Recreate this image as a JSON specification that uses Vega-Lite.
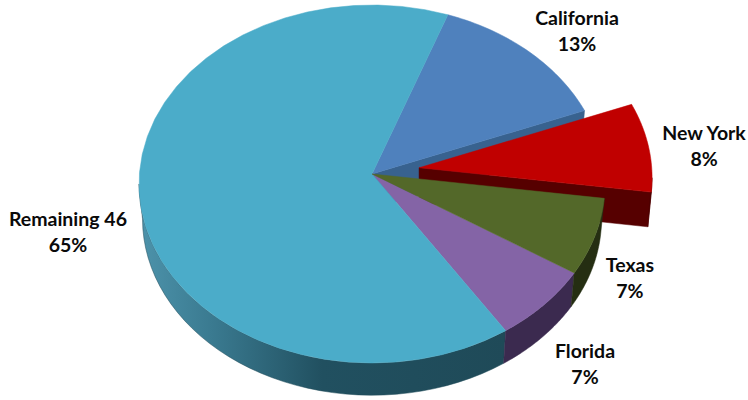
{
  "$schema": "https://vega.github.io/schema/vega-lite/v6.json",
  "description": "Share of a total by state, drawn as a tilted pie with an exploded New York slice. Slice angles come from the share field; the pie is a unit circle stretched by the x and y scales.",
  "autosize": {"type": "fit", "contains": "padding"},
  "width": 748,
  "height": 400,
  "padding": 0,
  "background": "white",
  "view": {"stroke": null},
  "data": {"values": [
    {"state": "California", "share": 13},
    {"state": "New York", "share": 8},
    {"state": "Texas", "share": 7},
    {"state": "Florida", "share": 7},
    {"state": "Remaining 46", "share": 65}
  ]},
  "transform": [
    {"window": [{"op": "sum", "field": "share", "as": "cum"}]},
    {"calculate": "19 + 3.6 * datum.cum", "as": "end"},
    {"calculate": "datum.end - 3.6 * datum.share", "as": "start"},
    {"calculate": "(datum.start + datum.end) / 2 * PI / 180", "as": "mid"},
    {"calculate": "datum.state === 'New York' ? 0.205 : 0", "as": "explode"},
    {"calculate": "['top', 'wall', 'radial']", "as": "kind"},
    {"flatten": ["kind"]},
    {"calculate": "sequence(0, 82)", "as": "step"},
    {"flatten": ["step"]},
    {"calculate": "(datum.step % 81) / 40", "as": "s"},
    {"calculate": "max(datum.start, 90)", "as": "a0"},
    {"calculate": "min(datum.end, 270)", "as": "a1"},
    {"calculate": "datum.kind === 'top' ? datum.start + min(datum.s, 1) * (datum.end - datum.start) : datum.kind === 'wall' ? (datum.s <= 1 ? datum.a0 + datum.s * (datum.a1 - datum.a0) : datum.a1 - (datum.s - 1.025) / 0.975 * (datum.a1 - datum.a0)) : datum.end", "as": "angle"},
    {"calculate": "datum.kind === 'top' ? (datum.s <= 1 ? 1 : 0) : datum.kind === 'wall' ? 1 : ((datum.s < 0.5 || datum.s >= 1.5) ? 0 : 1)", "as": "r"},
    {"calculate": "datum.kind === 'top' ? 0 : datum.kind === 'wall' ? (datum.s <= 1 ? 0 : 1) : (datum.s < 1 ? 0 : 1)", "as": "z"},
    {"calculate": "datum.explode * sin(datum.mid) + datum.r * (1 - 0.015 * datum.z) * sin(datum.angle * PI / 180)", "as": "px"},
    {"calculate": "datum.explode * cos(datum.mid) - 0.195 * datum.z + (datum.r === 0 ? 0.056 : (1 - 0.015 * datum.z) * cos(datum.angle * PI / 180))", "as": "py"},
    {"calculate": "{'California': 0.880, 'New York': 1.425, 'Texas': 1.107, 'Florida': 0.914, 'Remaining 46': -1.305}[datum.state]", "as": "labelX"},
    {"calculate": "{'California': 0.922, 'New York': 0.279, 'Texas': -0.458, 'Florida': -0.939, 'Remaining 46': -0.201}[datum.state]", "as": "labelY"},
    {"calculate": "[datum.state, datum.share + '%']", "as": "label"}
  ],
  "encoding": {
    "x": {"field": "px", "type": "quantitative", "axis": null, "scale": {"domain": [-1.5966, 1.6137], "nice": false, "zero": false}},
    "y": {"field": "py", "type": "quantitative", "axis": null, "scale": {"domain": [-1.2067, 1.0279], "nice": false, "zero": false}},
    "order": {"field": "step", "type": "quantitative"}
  },
  "layer": [
    {"transform": [{"filter": "datum.state === 'California' && datum.kind === 'radial'"}], "mark": {"type": "line", "fill": "#38628f", "stroke": "#38628f", "strokeWidth": 0.5}},
    {"transform": [{"filter": "datum.state === 'California' && datum.kind === 'top'"}], "mark": {"type": "line", "fill": "#4f81bd", "stroke": "#4f81bd", "strokeWidth": 0.5}},
    {"transform": [{"filter": "datum.state === 'New York' && datum.kind === 'radial'"}], "mark": {"type": "line", "fill": "#560000", "stroke": "#560000", "strokeWidth": 0.5}},
    {"transform": [{"filter": "datum.state === 'New York' && datum.kind === 'wall'"}], "mark": {"type": "line", "fill": "#4c0000", "stroke": "#4c0000", "strokeWidth": 0.5}},
    {"transform": [{"filter": "datum.state === 'New York' && datum.kind === 'top'"}], "mark": {"type": "line", "fill": "#c00000", "stroke": "#c00000", "strokeWidth": 0.5}},
    {"transform": [{"filter": "datum.state === 'Remaining 46' && datum.kind === 'wall'"}], "mark": {"type": "line", "stroke": "#1f4a58", "strokeWidth": 0.5, "fill": {"gradient": "linear", "x1": 0, "y1": 0, "x2": 1, "y2": 0, "stops": [{"offset": 0, "color": "#4d93ab"}, {"offset": 0.2, "color": "#3a7a90"}, {"offset": 0.5, "color": "#215060"}, {"offset": 1, "color": "#1f4a58"}]}}},
    {"transform": [{"filter": "datum.state === 'Florida' && datum.kind === 'wall'"}], "mark": {"type": "line", "fill": "#3b2a4f", "stroke": "#3b2a4f", "strokeWidth": 0.5}},
    {"transform": [{"filter": "datum.state === 'Texas' && datum.kind === 'wall'"}], "mark": {"type": "line", "fill": "#252e12", "stroke": "#252e12", "strokeWidth": 0.5}},
    {"transform": [{"filter": "datum.state === 'Florida' && datum.kind === 'top'"}], "mark": {"type": "line", "fill": "#8464a6", "stroke": "#8464a6", "strokeWidth": 0.5}},
    {"transform": [{"filter": "datum.state === 'Remaining 46' && datum.kind === 'top'"}], "mark": {"type": "line", "fill": "#4bacc9", "stroke": "#4bacc9", "strokeWidth": 0.5}},
    {"transform": [{"filter": "datum.state === 'Texas' && datum.kind === 'top'"}], "mark": {"type": "line", "fill": "#536829", "stroke": "#536829", "strokeWidth": 0.5}},
    {
      "transform": [{"filter": "datum.kind === 'top' && datum.step === 0"}],
      "mark": {"type": "text", "font": "Lato", "fontWeight": "bold", "fontSize": 19.5, "lineHeight": 26, "align": "center", "baseline": "middle", "color": "#0a0a0a"},
      "encoding": {
        "x": {"field": "labelX", "type": "quantitative"},
        "y": {"field": "labelY", "type": "quantitative"},
        "text": {"field": "label"},
        "order": null
      }
    }
  ]
}
